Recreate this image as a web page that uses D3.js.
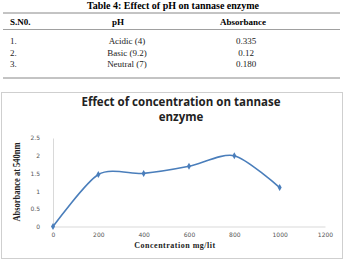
<!DOCTYPE html>
<html>
<head>
<meta charset="utf-8">
<script src="https://cdn.jsdelivr.net/npm/d3@7"></script>
<style>
  body { margin: 0; background: #fff; }
  svg { display: block; }
</style>
</head>
<body>
<div id="chart"></div>
<script>
// Table data
var tableHeaders = ["S.N0.", "pH", "Absorbance"];
var serialNos = ["1.", "2.", "3."];
var phLabels = ["Acidic (4)", "Basic (9.2)", "Neutral (7)"];
var absorbances = ["0.335", "0.12", "0.180"];

// Chart data
var concentrations = [0, 200, 400, 600, 800, 1000];
var absorbanceValues = [0, 1.47, 1.5, 1.7, 2.0, 1.1];
var xTicks = [0, 200, 400, 600, 800, 1000, 1200];
var yTicks = [0, 0.5, 1, 1.5, 2, 2.5];

var W = 346, H = 261;
var svg = d3.select("#chart").append("svg")
  .attr("width", W).attr("height", H);

// ---- table ----
var serif = "'Liberation Serif', 'Times New Roman', serif";
svg.append("text")
  .attr("x", 173).attr("y", 9)
  .attr("text-anchor", "middle")
  .style("font-family", serif).style("font-weight", "bold").style("font-size", "10px")
  .text("Table 4: Effect of pH on tannase enzyme");

[13, 29.5, 78].forEach(function(y, i) {
  svg.append("line")
    .attr("x1", 3).attr("x2", 340).attr("y1", y).attr("y2", y)
    .style("stroke", "#888").style("stroke-width", i == 1 ? 0.8 : 1);
});

var colX = [10, 118, 243];
var colAnchor = ["start", "middle", "middle"];
tableHeaders.forEach(function(h, i) {
  svg.append("text")
    .attr("x", colX[i]).attr("y", 25)
    .attr("text-anchor", colAnchor[i])
    .style("font-family", serif).style("font-weight", "bold").style("font-size", "9px")
    .text(h);
});

var rowY = d3.scalePoint().domain(serialNos).range([44, 67]);
serialNos.forEach(function(s, i) {
  var row = [s, phLabels[i], absorbances[i]];
  var cx = [10, 127, 246];
  row.forEach(function(t, j) {
    svg.append("text")
      .attr("x", cx[j]).attr("y", rowY(s))
      .attr("text-anchor", colAnchor[j])
      .style("font-family", serif).style("font-size", "9px").style("fill", "#222")
      .text(t);
  });
});

// ---- chart frame ----
svg.append("rect")
  .attr("x", 1.5).attr("y", 92.5).attr("width", 341).attr("height", 166)
  .style("fill", "#fff").style("stroke", "#cfcfcf").style("stroke-width", 1);

var titleFont = "'Open Sans', 'DejaVu Sans', sans-serif";
svg.append("text")
  .attr("x", 181).attr("y", 106)
  .attr("text-anchor", "middle")
  .style("font-family", titleFont).style("font-weight", "bold").style("font-size", "11.5px")
  .style("fill", "#222")
  .text("Effect of concentration on tannase");
svg.append("text")
  .attr("x", 181).attr("y", 121)
  .attr("text-anchor", "middle")
  .style("font-family", titleFont).style("font-weight", "bold").style("font-size", "11.5px")
  .style("fill", "#222")
  .text("enzyme");

var margin = {left: 53, top: 138, right: 325, bottom: 226.5};

var xScale = d3.scaleLinear().domain([0, 1200]).range([margin.left, margin.right]);
var yScale = d3.scaleLinear().domain([0, 2.5]).range([margin.bottom, margin.top]);

var xAxis = d3.axisBottom(xScale).tickValues(xTicks).tickSize(0).tickPadding(6)
  .tickFormat(function(d) { return d; });
var yAxis = d3.axisLeft(yScale).tickValues(yTicks).tickSize(0).tickPadding(13)
  .tickFormat(function(d) { return d; });

var gx = svg.append("g").attr("transform", "translate(0," + margin.bottom + ")").call(xAxis);
var gy = svg.append("g").attr("transform", "translate(" + margin.left + ",0)").call(yAxis);

[gx, gy].forEach(function(g) {
  g.select(".domain").style("stroke", "#d9d9d9");
  g.selectAll("text")
    .style("font-family", "'DejaVu Sans', sans-serif").style("font-size", "6px").style("fill", "#555");
});

// axis titles
svg.append("text")
  .attr("x", 175).attr("y", 248)
  .attr("text-anchor", "middle")
  .style("font-family", serif).style("font-weight", "bold").style("font-size", "8px")
  .style("letter-spacing", "0.5px").style("fill", "#222")
  .text("Concentration mg/lit");

svg.append("text")
  .attr("transform", "translate(20," + 182 + ") rotate(-90) scale(1,1.3)")
  .attr("text-anchor", "middle")
  .style("font-family", serif).style("font-weight", "bold").style("font-size", "8.5px")
  .style("fill", "#222")
  .text("Absorbance at 540nm");

// ---- line ----
var points = concentrations.map(function(c, i) { return [c, absorbanceValues[i]]; });
var line = d3.line()
  .x(function(d) { return xScale(d[0]); })
  .y(function(d) { return yScale(d[1]); })
  .curve(d3.curveCardinal.tension(0.2));

svg.append("path")
  .datum(points)
  .attr("d", line)
  .style("fill", "none").style("stroke", "#4a7ebb").style("stroke-width", 1.6);

svg.selectAll(".marker")
  .data(points)
  .enter()
  .append("path")
  .attr("class", "marker")
  .attr("transform", function(d) { return "translate(" + xScale(d[0]) + "," + yScale(d[1]) + ")"; })
  .attr("d", d3.symbol().type(d3.symbolDiamond).size(14))
  .style("fill", "#4a7ebb");
</script>
</body>
</html>
